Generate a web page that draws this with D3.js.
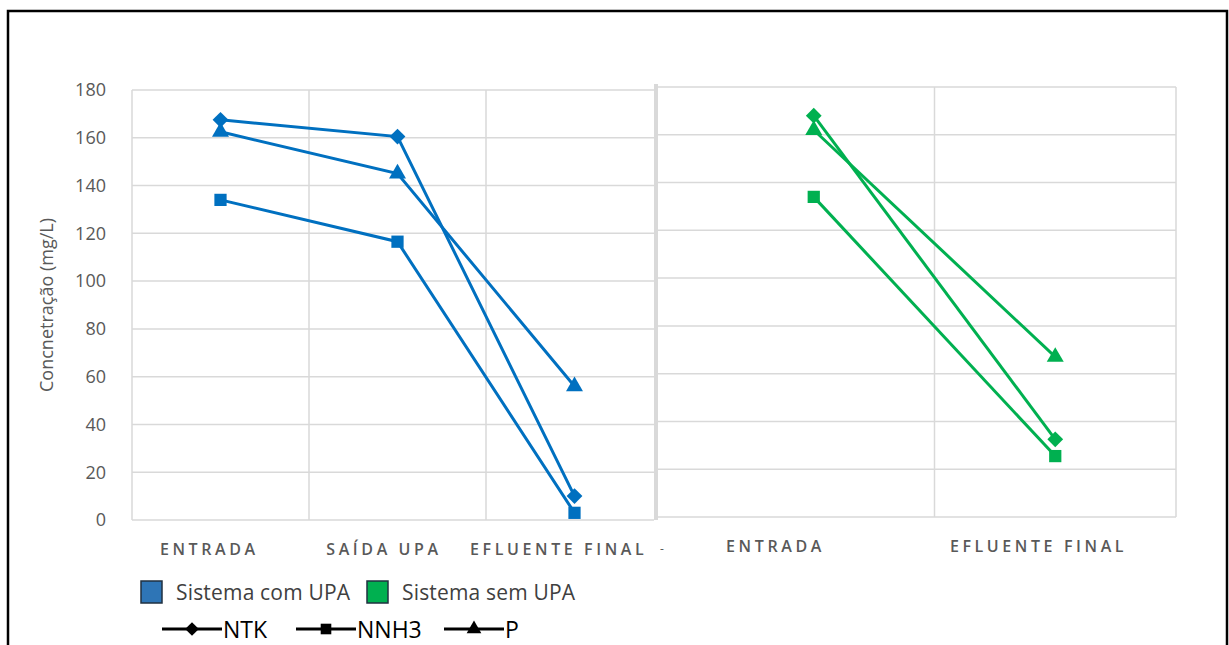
<!DOCTYPE html>
<html>
<head>
<meta charset="utf-8">
<script src="https://cdn.jsdelivr.net/npm/d3@7"></script>
<style>
  html, body { margin: 0; padding: 0; background: #fff; }
  svg { display: block; }
  text { font-family: "Open Sans", "Noto Sans", sans-serif; }
</style>
</head>
<body>
<svg id="chart" width="1229" height="645"></svg>
<script>
// Categories of each panel
const categoriesA = ["ENTRADA", "SAÍDA UPA", "EFLUENTE FINAL"];
const categoriesB = ["ENTRADA", "EFLUENTE FINAL"];

// Sistema com UPA (mg/L)
const ntkA  = [167.5, 160.5, 10];
const nnh3A = [134, 116.5, 3];
const pA    = [162.5, 145, 56];

// Sistema sem UPA (mg/L)
const ntkB  = [168, 32.5];
const nnh3B = [134, 25.5];
const pB    = [162, 67];

const yTicks = [0, 20, 40, 60, 80, 100, 120, 140, 160, 180];
const seriesNames = ["NTK", "NNH3", "P"];
const systemNames = ["Sistema com UPA", "Sistema sem UPA"];

const BLUE = "#0070C0", GREEN = "#00B050", GRID = "#d9d9d9", TXT = "#595959";

const svg = d3.select("#chart");

// outer frame
svg.append("path")
  .attr("d", "M8,645 V11 H1227 V645")
  .attr("fill", "none").attr("stroke", "#000").attr("stroke-width", 2.5);

// marker shapes: diamond is a square turned 45 degrees
const symbols = { NTK: d3.symbolSquare, NNH3: d3.symbolSquare, P: d3.symbolTriangle };
const symSize = { NTK: 125, NNH3: 150, P: 125 };
const symRot  = { NTK: 45, NNH3: 0, P: 0 };

function marker(sel, name, cx, cy, scale = 1) {
  sel.attr("d", d3.symbol().type(symbols[name]).size(symSize[name] * scale))
    .attr("transform", `translate(${cx},${cy}) rotate(${symRot[name]})`);
}

function panel(g, cats, series, color, xRange, yRange, gridLeft, drawLeftEdge) {
  const x = d3.scaleBand().domain(cats).range(xRange);
  const y = d3.scaleLinear().domain([0, 180]).range(yRange);
  // horizontal gridlines
  g.selectAll("line.h").data(yTicks).join("line")
    .attr("x1", gridLeft).attr("x2", xRange[1])
    .attr("y1", d => y(d)).attr("y2", d => y(d))
    .attr("stroke", GRID).attr("stroke-width", 1.5);
  // vertical category separators
  const seps = cats.map(c => x(c)).concat([xRange[1]]).slice(drawLeftEdge ? 0 : 1);
  g.selectAll("line.v").data(seps).join("line")
    .attr("x1", d => d).attr("x2", d => d)
    .attr("y1", y(0)).attr("y2", y(180))
    .attr("stroke", GRID).attr("stroke-width", 1.5);
  const cx = c => x(c) + x.bandwidth() / 2;
  const line = d3.line().x(d => cx(d.c)).y(d => y(d.v));
  series.forEach(s => {
    const pts = s.values.map((v, i) => ({ c: cats[i], v }));
    g.append("path").datum(pts).attr("d", line)
      .attr("fill", "none").attr("stroke", color).attr("stroke-width", 3);
    g.selectAll(null).data(pts).join("path")
      .each(function (d) { marker(d3.select(this), s.name, cx(d.c), y(d.v)); })
      .attr("fill", color);
  });
  return { x, y };
}

// left panel: Sistema com UPA
const clip = svg.append("clipPath").attr("id", "clipA");
clip.append("rect").attr("x", 100).attr("y", 60).attr("width", 554).attr("height", 480);
const gA = svg.append("g").attr("clip-path", "url(#clipA)");
const A = panel(gA, categoriesA,
  [{ name: "NTK", values: ntkA }, { name: "NNH3", values: nnh3A }, { name: "P", values: pA }],
  BLUE, [132, 663], [520, 90], 132, true);

// y axis labels
svg.selectAll("text.ytick").data(yTicks).join("text")
  .attr("x", 106).attr("y", d => A.y(d)).attr("dy", "0.35em")
  .attr("text-anchor", "end").attr("fill", TXT).attr("font-size", 18)
  .text(d => d);

svg.append("text")
  .attr("transform", "translate(53,305) rotate(-90)")
  .attr("text-anchor", "middle").attr("fill", TXT).attr("font-size", 18)
  .text("Concnetração (mg/L)");

// right panel: Sistema sem UPA
svg.append("rect").attr("x", 654).attr("y", 84).attr("width", 4).attr("height", 436).attr("fill", GRID);
const gB = svg.append("g");
const B = panel(gB, categoriesB,
  [{ name: "NTK", values: ntkB }, { name: "NNH3", values: nnh3B }, { name: "P", values: pB }],
  GREEN, [693, 1176], [517, 87], 658, false);

// category labels
const labA = d3.scaleBand().domain(categoriesA).range([122, 646]);
const labB = d3.scaleBand().domain(categoriesB).range([644, 1170]);
const labStyle = sel => sel.attr("text-anchor", "middle").attr("fill", TXT)
  .attr("font-size", 16).attr("font-weight", 600).attr("letter-spacing", "3.6px");
svg.selectAll("text.catA").data(categoriesA).join("text")
  .attr("x", d => labA(d) + labA.bandwidth() / 2).attr("y", 555)
  .call(labStyle).text(d => d);
svg.selectAll("text.catB").data(categoriesB).join("text")
  .attr("x", d => labB(d) + labB.bandwidth() / 2).attr("y", 552)
  .call(labStyle).text(d => d);
svg.append("text").attr("x", 660).attr("y", 553).attr("fill", TXT)
  .attr("font-size", 12).text("-");

// legend: systems
const sysLeg = svg.append("g");
const sysX = [141, 367];
systemNames.forEach((n, i) => {
  sysLeg.append("rect").attr("x", sysX[i]).attr("y", 581).attr("width", 21).attr("height", 22)
    .attr("fill", i === 0 ? "#2E75B6" : GREEN).attr("stroke", "#203040").attr("stroke-width", 1.5);
  sysLeg.append("text").attr("x", sysX[i] + 35).attr("y", 600)
    .attr("fill", "#404040").attr("font-size", 21).attr("textLength", i === 0 ? 174 : 173)
    .text(n);
});

// legend: series
const serLeg = svg.append("g");
const serX = [162, 296, 444];
seriesNames.forEach((n, i) => {
  const x0 = serX[i];
  serLeg.append("line").attr("x1", x0).attr("x2", x0 + 60).attr("y1", 629).attr("y2", 629)
    .attr("stroke", "#000").attr("stroke-width", 3);
  serLeg.append("path").attr("fill", "#000")
    .call(sel => marker(sel, n, x0 + 30, 629, 0.75));
  serLeg.append("text").attr("x", x0 + 61).attr("y", 638)
    .attr("fill", "#000").attr("font-size", 23).text(n);
});
</script>
</body>
</html>
